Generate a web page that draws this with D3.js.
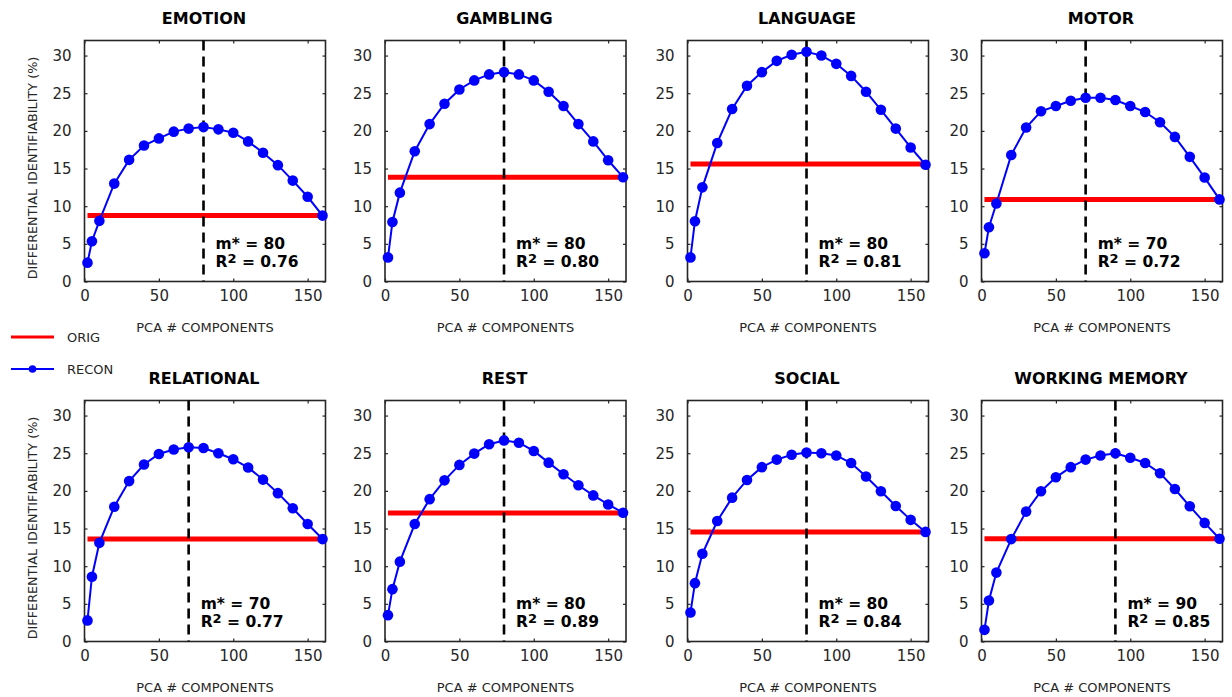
<!DOCTYPE html>
<html>
<head>
<meta charset="utf-8">
<script src="https://cdn.jsdelivr.net/npm/d3@7"></script>
<style>
  body { margin: 0; background: #fff; }
  svg { display: block; font-family: 'DejaVu Sans', sans-serif; }
</style>
</head>
<body>
<svg width="1232" height="697"></svg>
<script>
// data
const tasks = ['EMOTION', 'GAMBLING', 'LANGUAGE', 'MOTOR', 'RELATIONAL', 'REST', 'SOCIAL', 'WORKING MEMORY']
const components = [2, 5, 10, 20, 30, 40, 50, 60, 70, 80, 90, 100, 110, 120, 130, 140, 150, 160]

const emotionRecon = [2.5, 5.35, 8.05, 13.0, 16.15, 18.05, 19.0, 19.9, 20.3, 20.5, 20.2, 19.75, 18.6, 17.1, 15.45, 13.4, 11.25, 8.75]
const gamblingRecon = [3.2, 7.9, 11.8, 17.3, 20.9, 23.6, 25.5, 26.7, 27.5, 27.8, 27.5, 26.7, 25.2, 23.3, 20.9, 18.6, 16.1, 13.85]
const languageRecon = [3.2, 8.0, 12.5, 18.4, 22.9, 26.0, 27.8, 29.3, 30.1, 30.5, 30.0, 28.9, 27.3, 25.2, 22.8, 20.3, 17.8, 15.5]
const motorRecon = [3.75, 7.2, 10.35, 16.8, 20.45, 22.6, 23.3, 24.0, 24.4, 24.4, 24.1, 23.3, 22.5, 21.15, 19.2, 16.55, 13.8, 10.9]
const relationalRecon = [2.8, 8.6, 13.1, 17.9, 21.3, 23.5, 24.9, 25.5, 25.8, 25.7, 25.0, 24.2, 23.1, 21.5, 19.7, 17.7, 15.6, 13.6]
const restRecon = [3.5, 6.95, 10.6, 15.6, 18.9, 21.4, 23.45, 24.95, 26.2, 26.7, 26.4, 25.3, 23.75, 22.2, 20.75, 19.4, 18.2, 17.1]
const socialRecon = [3.85, 7.75, 11.65, 16.0, 19.1, 21.45, 23.15, 24.15, 24.8, 25.1, 25.0, 24.7, 23.7, 21.9, 19.95, 18.0, 16.15, 14.55]
const wmRecon = [1.55, 5.45, 9.15, 13.6, 17.25, 19.95, 21.8, 23.15, 24.15, 24.7, 25.0, 24.4, 23.7, 22.35, 20.25, 17.95, 15.75, 13.65]
const reconSeries = [emotionRecon, gamblingRecon, languageRecon, motorRecon, relationalRecon, restRecon, socialRecon, wmRecon]

const origValues = [8.75, 13.85, 15.6, 10.9, 13.6, 17.05, 14.55, 13.65]
const mStar = [80, 80, 80, 70, 70, 80, 80, 90]
const rSquared = ['0.76', '0.80', '0.81', '0.72', '0.77', '0.89', '0.84', '0.85']

const xTicks = [0, 50, 100, 150]
const yTicks = [0, 5, 10, 15, 20, 25, 30]
const legendLabels = ['ORIG', 'RECON']

// layout
const svg = d3.select('svg')
const panelLeft = [84.5, 385, 687.5, 981.5]
const panelTop = [40.5, 400.5]
const size = 241
const axisColor = '#262626'

const xScale = d3.scaleLinear().domain([0, 162]).range([0, size])
const yScale = d3.scaleLinear().domain([0, 32]).range([size, 0])

const line = d3.line()
  .x(d => xScale(d[0]))
  .y(d => yScale(d[1]))

tasks.forEach(function (task, i) {
  const col = i % 4
  const row = Math.floor(i / 4)
  const g = svg.append('g')
    .attr('transform', `translate(${panelLeft[col]},${panelTop[row]})`)

  // axes (ticks inside, all four sides)
  g.append('g')
    .attr('transform', `translate(0,${size})`)
    .call(d3.axisBottom(xScale).tickValues(xTicks).tickSize(-3).tickPadding(9))
  g.append('g')
    .call(d3.axisTop(xScale).tickValues(xTicks).tickSize(-3).tickFormat(''))
  g.append('g')
    .call(d3.axisLeft(yScale).tickValues(yTicks).tickSize(-3).tickPadding(13))
  g.append('g')
    .attr('transform', `translate(${size},0)`)
    .call(d3.axisRight(yScale).tickValues(yTicks).tickSize(-3).tickFormat(''))

  g.selectAll('.domain').remove()
  g.selectAll('.tick line').attr('stroke', axisColor).attr('stroke-width', 1.2)
  g.selectAll('.tick text')
    .style('font-family', 'DejaVu Sans')
    .style('font-size', '15px')
    .attr('fill', axisColor)

  // box
  g.append('rect')
    .attr('width', size)
    .attr('height', size)
    .attr('fill', 'none')
    .attr('stroke', axisColor)
    .attr('stroke-width', 1.6)

  // orig line
  g.append('path')
    .datum(components.map(c => [c, origValues[i]]))
    .attr('d', line)
    .attr('fill', 'none')
    .attr('stroke', '#ff0000')
    .attr('stroke-width', 5)

  // m* dashed line
  g.append('line')
    .attr('x1', xScale(mStar[i]))
    .attr('x2', xScale(mStar[i]))
    .attr('y1', 0)
    .attr('y2', size)
    .attr('stroke', '#000')
    .attr('stroke-width', 2.6)
    .attr('stroke-dasharray', '10,6')

  // recon line + markers
  const pts = components.map((c, j) => [c, reconSeries[i][j]])
  g.append('path')
    .datum(pts)
    .attr('d', line)
    .attr('fill', 'none')
    .attr('stroke', '#0000ff')
    .attr('stroke-width', 2)
  g.selectAll('circle')
    .data(pts)
    .enter().append('circle')
    .attr('cx', d => xScale(d[0]))
    .attr('cy', d => yScale(d[1]))
    .attr('r', 5.3)
    .attr('fill', '#0000ff')

  // annotation
  const ax = xScale(mStar[i]) + 12
  g.append('text')
    .attr('x', ax)
    .attr('y', 208)
    .style('font-size', '15.5px')
    .style('font-weight', 'bold')
    .attr('fill', '#000')
    .text(`m* = ${mStar[i]}`)
  const r2 = g.append('text')
    .attr('x', ax)
    .attr('y', 226)
    .style('font-size', '15.5px')
    .style('font-weight', 'bold')
    .attr('fill', '#000')
  r2.append('tspan').text('R')
  r2.append('tspan').attr('dy', -4).style('font-size', '13px').text('2')
  r2.append('tspan').attr('dy', 4).text(` = ${rSquared[i]}`)

  // title
  g.append('text')
    .attr('x', size / 2 - 1)
    .attr('y', -17)
    .attr('text-anchor', 'middle')
    .style('font-size', '16px')
    .style('font-weight', 'bold')
    .attr('fill', '#000')
    .text(task)

  // x label
  g.append('text')
    .attr('x', size / 2)
    .attr('y', size + 50)
    .attr('text-anchor', 'middle')
    .style('font-size', '13px')
    .attr('fill', axisColor)
    .text('PCA # COMPONENTS')

  // y label, first column only
  if (col === 0) {
    g.append('text')
      .attr('transform', `translate(-48,${size / 2 + 7}) rotate(-90)`)
      .attr('text-anchor', 'middle')
      .style('font-size', '12.8px')
      .attr('fill', axisColor)
      .text('DIFFERENTIAL IDENTIFIABILITY (%)')
  }
})

// legend
const legend = svg.append('g').attr('class', 'legend')
const legendY = d3.scalePoint().domain(legendLabels).range([337, 369])

legend.append('line')
  .attr('x1', 11).attr('x2', 54)
  .attr('y1', legendY('ORIG')).attr('y2', legendY('ORIG'))
  .attr('stroke', '#ff0000')
  .attr('stroke-width', 3)
legend.append('line')
  .attr('x1', 11).attr('x2', 54)
  .attr('y1', legendY('RECON')).attr('y2', legendY('RECON'))
  .attr('stroke', '#0000ff')
  .attr('stroke-width', 2)
legend.append('circle')
  .attr('cx', 32.5)
  .attr('cy', legendY('RECON'))
  .attr('r', 3.8)
  .attr('fill', '#0000ff')
legend.selectAll('text.lbl')
  .data(legendLabels)
  .enter().append('text')
  .attr('class', 'lbl')
  .attr('x', 67)
  .attr('y', d => legendY(d))
  .attr('dy', '0.36em')
  .style('font-size', '13px')
  .attr('fill', axisColor)
  .text(d => d)
</script>
</body>
</html>
